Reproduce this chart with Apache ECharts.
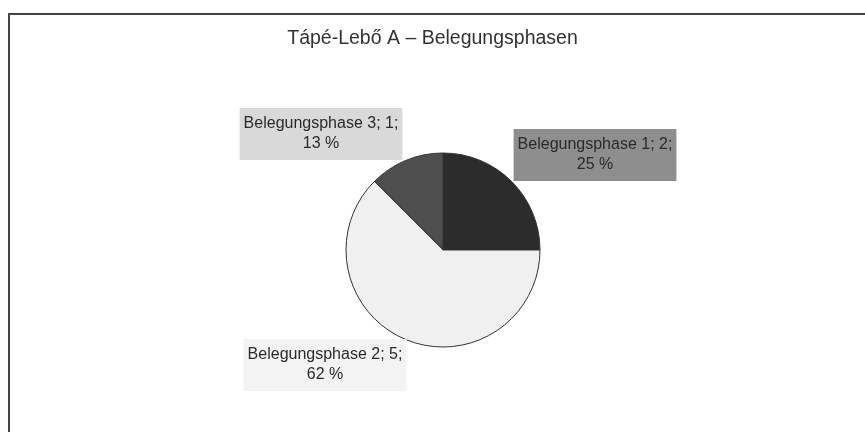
<!DOCTYPE html>
<html>
<head>
<meta charset="utf-8">
<script src="https://cdn.jsdelivr.net/npm/echarts@6/dist/echarts.min.js"></script>
<style>
html,body{margin:0;padding:0;background:#fff;}
#chart{width:865px;height:432px;}
</style>
</head>
<body>
<div id="chart"></div>
<script>
const titleText = 'Tápé-Lebő A – Belegungsphasen';
const categories = ['Belegungsphase 1', 'Belegungsphase 2', 'Belegungsphase 3'];
const values = [2, 5, 1];
const percentLabels = ['25', '62', '13'];

const sliceColors = ['#2c2c2c', '#f0f0f0', '#4e4e4e'];
const boxColors = ['#8e8e8e', '#f3f3f3', '#d9d9d9'];
const boxCenters = [[595, 155], [325, 365], [321, 134]];

const chart = echarts.init(document.getElementById('chart'), null, {renderer: 'canvas'});
const FONT = '"Liberation Sans", Arial, Helvetica, sans-serif';

chart.setOption({
  backgroundColor: '#ffffff',
  animation: false,
  title: {
    text: titleText,
    left: 'center',
    top: 24,
    textStyle: {fontFamily: FONT, fontSize: 19.5, fontWeight: 'normal', color: '#333'}
  },
  graphic: [{
    type: 'rect',
    shape: {x: 9, y: 14, width: 900, height: 500},
    style: {fill: 'none', stroke: '#444', lineWidth: 2},
    silent: true
  }],
  series: [{
    type: 'pie',
    center: [443, 250],
    radius: [0, 97],
    startAngle: 90,
    clockwise: true,
    itemStyle: {borderColor: '#333', borderWidth: 1},
    data: categories.map((c, i) => ({
      name: c,
      value: values[i],
      itemStyle: {color: sliceColors[i]},
      label: {backgroundColor: boxColors[i]}
    })),
    label: {
      show: true,
      position: 'outside',
      formatter: p => p.name + '; ' + p.value + ';\n' + percentLabels[p.dataIndex] + ' %',
      fontFamily: FONT,
      fontSize: 16,
      lineHeight: 20,
      color: '#2a2a2a',
      align: 'center',
      padding: [6, 4, 6, 4],
      overflow: 'none'
    },
    labelLine: {show: false},
    labelLayout: function (params) {
      const c = boxCenters[params.dataIndex];
      return {x: c[0], y: c[1], align: 'center', verticalAlign: 'middle'};
    }
  }]
});
</script>
</body>
</html>
